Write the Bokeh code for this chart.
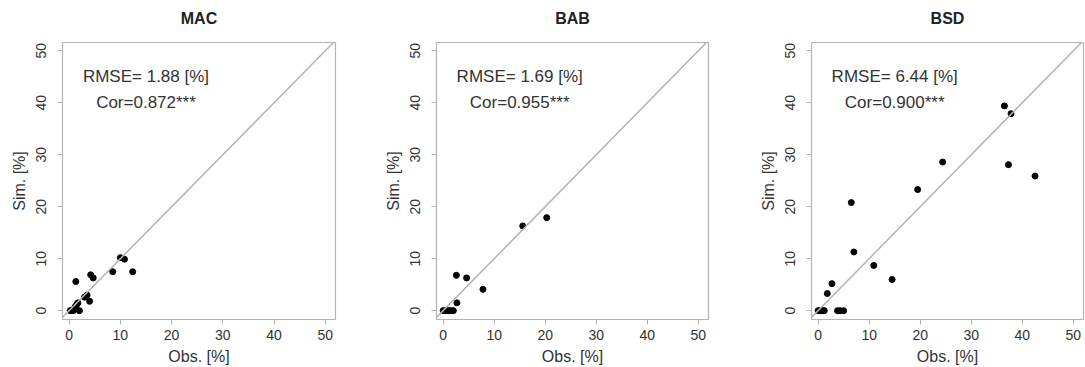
from bokeh.plotting import figure
from bokeh.layouts import row
from bokeh.models import FixedTicker, Range1d, Slope, Label, Title
from bokeh.embed import file_html
from bokeh.resources import INLINE

titles = ["MAC", "BAB", "BSD"]
rmse_texts = ["RMSE= 1.88 [%]", "RMSE= 1.69 [%]", "RMSE= 6.44 [%]"]
cor_texts = ["Cor=0.872***", "Cor=0.955***", "Cor=0.900***"]
ticks = [0, 10, 20, 30, 40, 50]

mac_obs = [0.2, 0.5, 0.8, 1.0, 1.2, 1.5, 1.7, 2.0, 1.3, 3.0, 3.5, 4.0, 4.2, 4.7, 8.5, 10.0, 10.8, 12.4]
mac_sim = [0.0, 0.1, 0.0, 0.3, 0.8, 1.2, 1.5, 0.0, 5.6, 2.6, 3.0, 1.8, 6.9, 6.3, 7.5, 10.2, 9.9, 7.5]

bab_obs = [0.0, 0.4, 0.8, 1.2, 1.6, 2.0, 2.7, 2.6, 4.6, 7.8, 15.6, 20.3]
bab_sim = [0.0, 0.0, 0.0, 0.0, 0.0, 0.0, 1.5, 6.8, 6.3, 4.1, 16.3, 17.9]

bsd_obs = [0.0, 0.3, 0.6, 1.0, 1.2, 3.8, 4.3, 5.0, 1.8, 2.7, 6.5, 7.0, 10.9, 14.5, 19.5, 24.4, 36.5, 37.8, 37.3, 42.5]
bsd_sim = [0.0, 0.0, 0.0, 0.0, 0.0, 0.0, 0.0, 0.0, 3.3, 5.2, 20.8, 11.3, 8.7, 6.0, 23.3, 28.6, 39.4, 37.9, 28.1, 25.9]

series = [(mac_obs, mac_sim), (bab_obs, bab_sim), (bsd_obs, bsd_sim)]

FONT = "Liberation Sans"
TXT = "#333333"
GRAY = "#b4b4b4"

lefts = [62, 54, 54]
rights = [46, 48, 2]

figs = []
for i in range(3):
    obs, sim = series[i]
    p = figure(width=lefts[i] + 273 + rights[i], height=367,
               x_range=Range1d(-1.3, 52), y_range=Range1d(-1.7, 51.6),
               output_backend="svg", toolbar_location=None,
               min_border_left=lefts[i], min_border_right=rights[i],
               min_border_top=42, min_border_bottom=48)
    p.title.text = titles[i]
    p.title.align = "center"
    p.title.text_font = FONT
    p.title.text_font_size = "16px"
    p.title.text_font_style = "bold"
    p.title.text_color = "#222222"
    # thin blank spacer between the title and the frame
    p.add_layout(Title(text=" ", text_font_size="8px", standoff=0), "above")
    p.grid.visible = False
    p.outline_line_color = GRAY
    p.outline_line_width = 1.2
    p.background_fill_color = "white"
    p.border_fill_color = "white"

    p.xaxis.axis_label = "Obs. [%]"
    p.yaxis.axis_label = "Sim. [%]"
    for ax in (p.xaxis[0], p.yaxis[0]):
        ax.ticker = FixedTicker(ticks=ticks)
        ax.axis_line_color = GRAY
        ax.major_tick_line_color = GRAY
        ax.minor_tick_line_color = None
        ax.major_tick_out = 5
        ax.major_tick_in = 0
        ax.major_label_text_font = FONT
        ax.major_label_text_font_size = "14px"
        ax.major_label_text_color = TXT
        ax.axis_label_text_font = FONT
        ax.axis_label_text_font_size = "16px"
        ax.axis_label_text_font_style = "normal"
        ax.axis_label_text_color = TXT
    p.xaxis.major_label_standoff = 5
    p.xaxis.axis_label_standoff = 5
    p.yaxis.major_label_standoff = 11
    p.yaxis.axis_label_standoff = 6
    p.yaxis.major_label_orientation = "vertical"

    p.add_layout(Slope(gradient=1, y_intercept=0, line_color=GRAY, line_width=1.5))
    p.scatter(obs, sim, size=6, color="black")

    p.add_layout(Label(x=15, y=45, text=rmse_texts[i], text_align="center", text_baseline="middle",
                       text_font=FONT, text_font_size="17px", text_color=TXT))
    p.add_layout(Label(x=15, y=40, text=cor_texts[i], text_align="center", text_baseline="middle",
                       text_font=FONT, text_font_size="17px", text_color=TXT))
    figs.append(p)

layout = row(*figs, spacing=0)
open("out.html", "w").write(file_html(layout, INLINE))
